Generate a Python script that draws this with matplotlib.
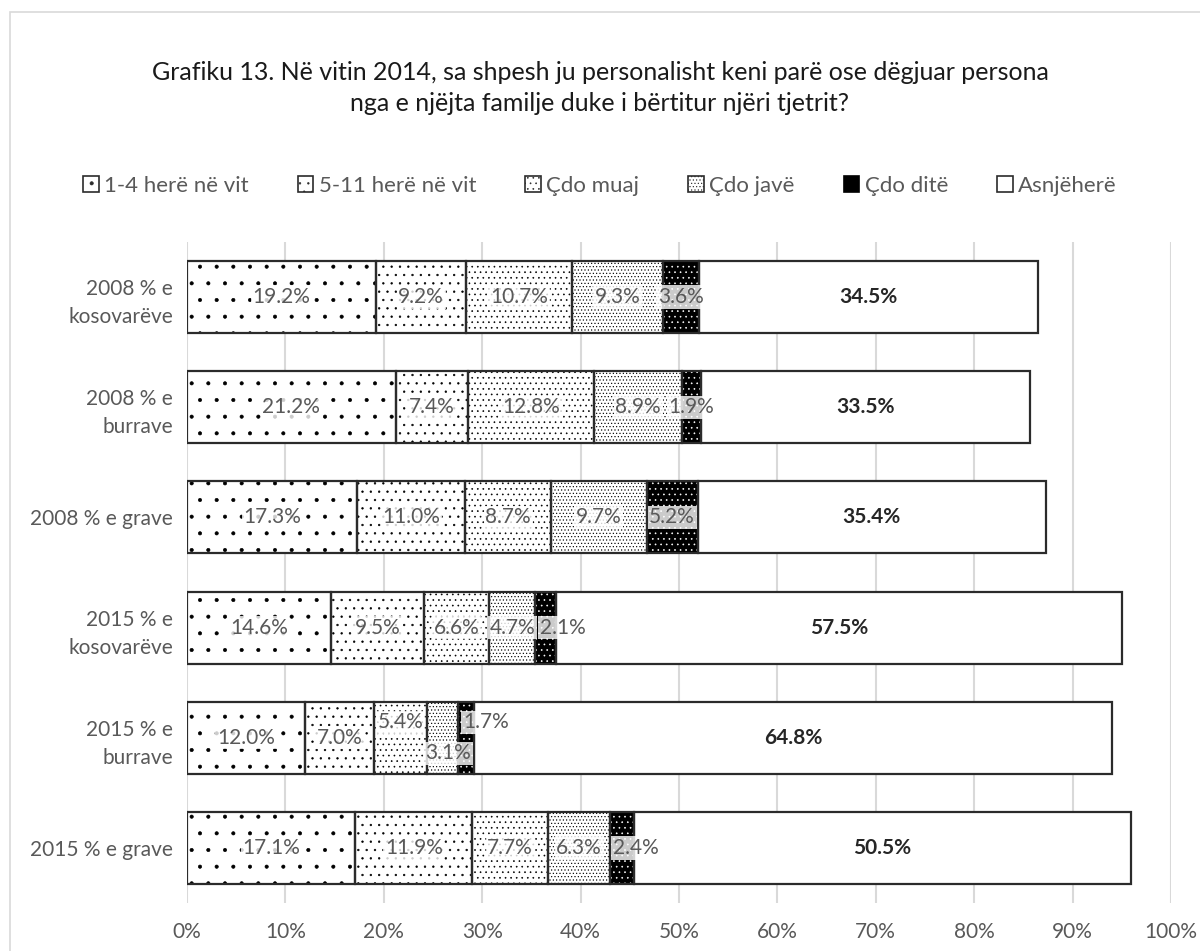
import matplotlib
matplotlib.use("Agg")
import matplotlib.pyplot as plt
from matplotlib.patches import Rectangle, Patch
import numpy as np

plt.rcParams['font.family'] = ['Lato', 'DejaVu Sans']
plt.rcParams['hatch.linewidth'] = 0.45

categories = ["2008 % e\nkosovarëve", "2008 % e\nburrave", "2008 % e grave",
              "2015 % e\nkosovarëve", "2015 % e\nburrave", "2015 % e grave"]
series_names = ["1-4 herë në vit", "5-11 herë në vit", "Çdo muaj", "Çdo javë", "Çdo ditë", "Asnjëherë"]
v_1_4 = [19.2, 21.2, 17.3, 14.6, 12.0, 17.1]
v_5_11 = [9.2, 7.4, 11.0, 9.5, 7.0, 11.9]
v_muaj = [10.7, 12.8, 8.7, 6.6, 5.4, 7.7]
v_jave = [9.3, 8.9, 9.7, 4.7, 3.1, 6.3]
v_dite = [3.6, 1.9, 5.2, 2.1, 1.7, 2.4]
v_asnje = [34.5, 33.5, 35.4, 57.5, 64.8, 50.5]
xticks = [0, 10, 20, 30, 40, 50, 60, 70, 80, 90, 100]
title = ("Grafiku 13. Në vitin 2014, sa shpesh ju personalisht keni parë ose dëgjuar persona\n"
         "nga e njëjta familje duke i bërtitur njëri tjetrit?")

series = [v_1_4, v_5_11, v_muaj, v_jave, v_dite, v_asnje]
hatches = ['.', '..', '...', '.....', '...', None]
faces = ['white', 'white', 'white', 'white', 'black', 'white']
hatch_cols = ['black', 'black', 'black', 'black', 'white', 'black']
edge = '#2b2b2b'
gray = '#595959'

# label offsets (dx in %, dy in band units) for crowded labels: (series idx, category idx)
label_offsets = {(4, 3): (1.7, 0.0), (4, 5): (1.4, 0.0),
                 (2, 4): (0.0, -0.14), (3, 4): (0.6, 0.14), (4, 4): (2.0, -0.14)}

fig = plt.figure(figsize=(12, 9.51), dpi=100)
ax = fig.add_axes([187/1200, 1-903/951, (1171-187)/1200, (903-242)/951])

# figure border
fig.patches.append(Rectangle((10/1200, -0.01), 1.02, 1 - 12/951 + 0.01, transform=fig.transFigure,
                             fill=False, edgecolor='#d9d9d9', linewidth=1.2, zorder=0))

y = np.arange(len(categories))
h = 0.655
left = np.zeros(len(categories))
for i, vals in enumerate(series):
    vals = np.array(vals)
    if hatches[i] is None:
        ax.barh(y, vals, left=left, height=h, color='white', edgecolor=edge, linewidth=1.6, zorder=3)
    else:
        ax.barh(y, vals, left=left, height=h, color=faces[i], edgecolor=hatch_cols[i],
                hatch=hatches[i], linewidth=0, zorder=3)
        ax.barh(y, vals, left=left, height=h, fill=False, edgecolor=edge, linewidth=1.6, zorder=4)
    for j, v in enumerate(vals):
        dx, dy = label_offsets.get((i, j), (0.0, 0.0))
        cx = left[j] + v / 2 + dx
        if i == 5:
            ax.text(cx, y[j] + dy, f"{v:.1f}%", ha='center', va='center', fontsize=15,
                    fontweight='bold', color='#262626', zorder=6)
        else:
            ax.text(cx, y[j] + dy, f"{v:.1f}%", ha='center', va='center', fontsize=15,
                    color=gray, zorder=6,
                    bbox=dict(boxstyle='square,pad=0.08', facecolor='white', edgecolor='none', alpha=0.8))
    left = left + vals

ax.set_xlim(0, 100)
ax.set_ylim(len(categories) - 0.5, -0.5)
ax.set_xticks(xticks)
ax.set_xticklabels([f"{t}%" for t in xticks])
ax.set_yticks(y)
ax.set_yticklabels(categories, fontsize=15, color=gray, linespacing=1.5)
ax.tick_params(axis='x', labelsize=15, labelcolor=gray, length=0, pad=14)
ax.tick_params(axis='y', length=0, pad=10)
ax.grid(axis='x', color='#d9d9d9', linewidth=1.5, zorder=0)
ax.set_axisbelow(True)
for s in ax.spines.values():
    s.set_visible(False)

fig.text(0.5, 1 - 88/951, title, ha='center', va='center', fontsize=18, color='#1a1a1a',
         linespacing=1.4)

# legend
handles = []
for i in range(6):
    if hatches[i] is None:
        handles.append(Patch(facecolor='white', edgecolor=edge, linewidth=1.2))
    else:
        handles.append(Patch(facecolor=faces[i], edgecolor=edge if faces[i] == 'white' else 'black',
                             hatch=hatches[i], linewidth=1.2))
leg = fig.legend(handles, series_names, loc='center', bbox_to_anchor=(0.5, 1 - 186/951),
                 ncol=6, frameon=False, fontsize=16, handlelength=0.7, handleheight=0.7,
                 handletextpad=0.25, columnspacing=2.2, labelcolor=gray)

fig.savefig("out.png", dpi=100, facecolor='white')
